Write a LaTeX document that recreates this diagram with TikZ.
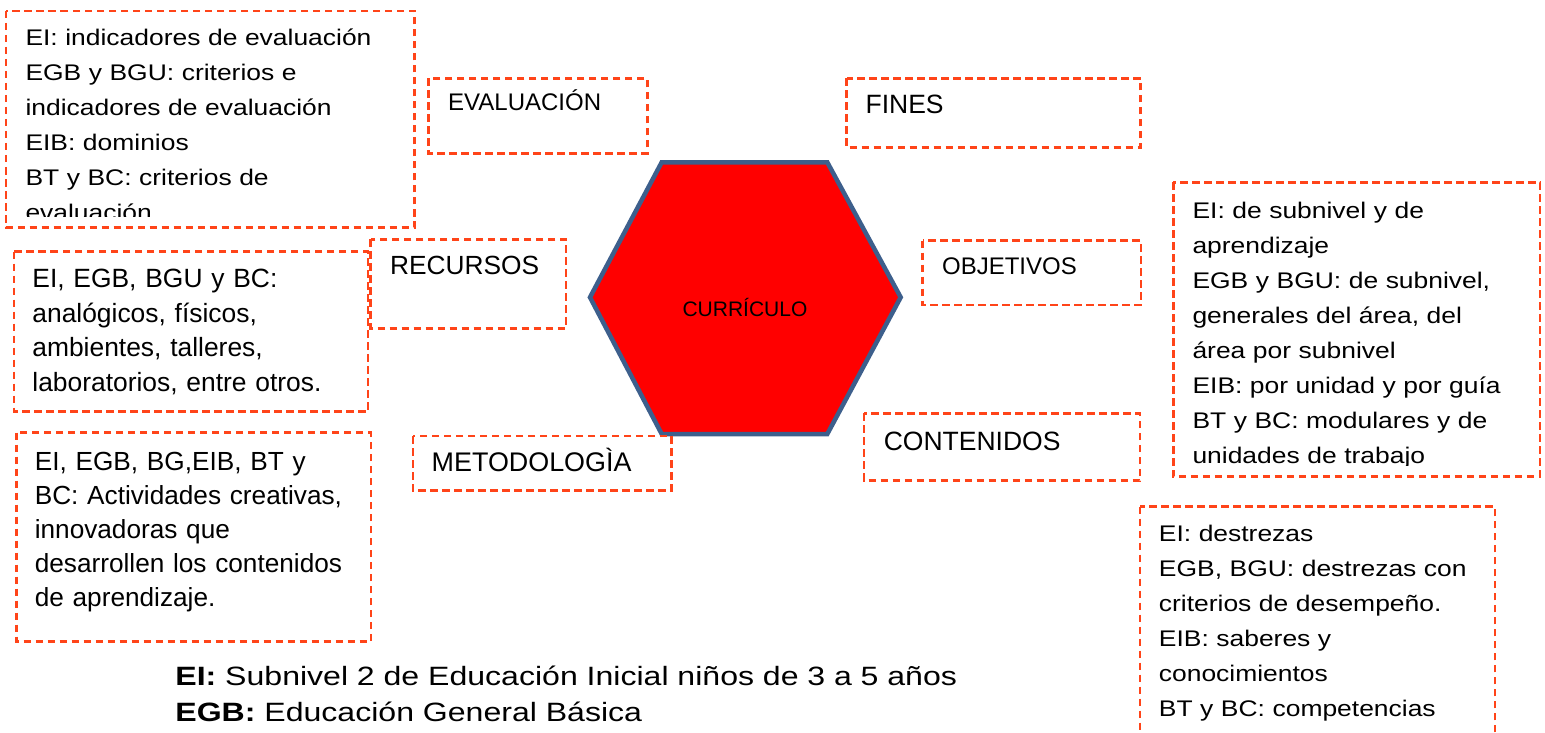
\documentclass[tikz,border=0pt]{standalone}
\usepackage{fontspec}
\setmainfont{Liberation Sans}
\newfontfamily\fwide[FakeStretch=1.17]{Liberation Sans}
\newfontfamily\flegend[FakeStretch=1.21]{Liberation Sans}
\definecolor{dashred}{HTML}{FF4419}
\definecolor{hexblue}{HTML}{3D5F8C}
\definecolor{hexfill}{HTML}{FF0000}
\begin{document}
\begin{tikzpicture}[x=1pt,y=-1pt,
  dbox/.style={draw=dashred, line width=2.6pt, dash pattern=on 7.5pt off 4.5pt},
  lbl/.style={anchor=base west, inner sep=0pt, outer sep=0pt},
  para/.style={lbl, text width=1000pt, align=left},
  wide/.style={font=\fwide\fontsize{22.6}{35}\selectfont},
  hexa/.style={draw=hexblue, fill=hexfill, line width=4.5pt, line join=miter}
 ]
\path[use as bounding box] (0,0) rectangle (1545,733);

% central hexagon
\draw[hexa] (661.7,162.3) -- (827.3,162.3) -- (900.7,297.3) -- (827.3,434)
  -- (661.7,434) -- (590,297.3) -- cycle;
\node[anchor=base, inner sep=0pt, font=\fontsize{21}{25}\selectfont] (curriculo) at (745,316.7) {CURRÍCULO};

% title boxes
\draw[dbox] (428.3,78.3) rectangle (647.3,153.3);
\node[lbl, font=\fontsize{24}{28}\selectfont] (evaluacion) at (448.2,110.7) {EVALUACIÓN};

\draw[dbox] (846.7,78.3) rectangle (1140.7,147.3);
\node[lbl, font=\fontsize{26.5}{30}\selectfont] (fines) at (865.6,113.3) {FINES};

\draw[dbox] (922.7,240.7) rectangle (1141,305);
\node[lbl, font=\fontsize{24}{28}\selectfont] (objetivos) at (942.1,274.3) {OBJETIVOS};

\draw[dbox] (864,413.3) rectangle (1140,480.7);
\node[lbl, font=\fontsize{26.5}{30}\selectfont] (contenidos) at (883.8,450) {CONTENIDOS};

\draw[dbox] (370.7,239.3) rectangle (566,328.3);
\node[lbl, font=\fontsize{26.3}{30}\selectfont] (recursos) at (390.1,274.3) {RECURSOS};

\draw[dbox] (412.8,436) rectangle (671.3,490.7);
\node[lbl, font=\fontsize{26.9}{30}\selectfont] (metodologia) at (431.7,471.7) {METODOLOGÌA};

% evaluation detail box (text clipped at the bottom)
\draw[dbox] (6,11) rectangle (414.5,227.5);
\begin{scope}
\clip (6,11) rectangle (414,216.5);
\node[para, wide] (evaltxt) at (25.5,45.7) {EI: indicadores de evaluación\\
EGB y BGU: criterios e\\
indicadores de evaluación\\
EIB: dominios\\
BT y BC: criterios de\\
evaluación};
\end{scope}

% objetivos detail box
\draw[dbox] (1173.3,182.3) rectangle (1540,476.7);
\begin{scope}
\clip (1173,182) rectangle (1540,465.5);
\node[para, wide] (objtxt) at (1192.5,218.3) {EI: de subnivel y de\\
aprendizaje\\
EGB y BGU: de subnivel,\\
generales del área, del\\
área por subnivel\\
EIB: por unidad y por guía\\
BT y BC: modulares y de\\
unidades de trabajo};
\end{scope}

% contenidos detail box (runs off the bottom)
\draw[dbox] (1140,506.7) rectangle (1495,760);
\node[para, wide] (contxt) at (1158.9,541.7) {EI: destrezas\\
EGB, BGU: destrezas con\\
criterios de desempeño.\\
EIB: saberes y\\
conocimientos\\
BT y BC: competencias};

% recursos detail box
\draw[dbox] (14,251.7) rectangle (368,411.7);
\node[para, font=\fontsize{26.4}{34.8}\selectfont] (rectxt) at (32.4,287.3) {EI, EGB, BGU y BC:\\
analógicos, físicos,\\
ambientes, talleres,\\
laboratorios, entre otros.};

% metodologia detail box
\draw[dbox] (16.5,432.7) rectangle (370.8,641.7);
\node[para, font=\fontsize{26.2}{34.2}\selectfont] (mettxt) at (34.8,470) {EI, EGB, BG,EIB, BT y\\
BC: Actividades creativas,\\
innovadoras que\\
desarrollen los contenidos\\
de aprendizaje.};

% legend
\node[para, font=\flegend\fontsize{26.5}{36.7}\selectfont] (legend) at (175.4,685) {\textbf{EI:} Subnivel 2 de Educación Inicial niños de 3 a 5 años\\
\textbf{EGB:} Educación General Básica};
\end{tikzpicture}
\end{document}
